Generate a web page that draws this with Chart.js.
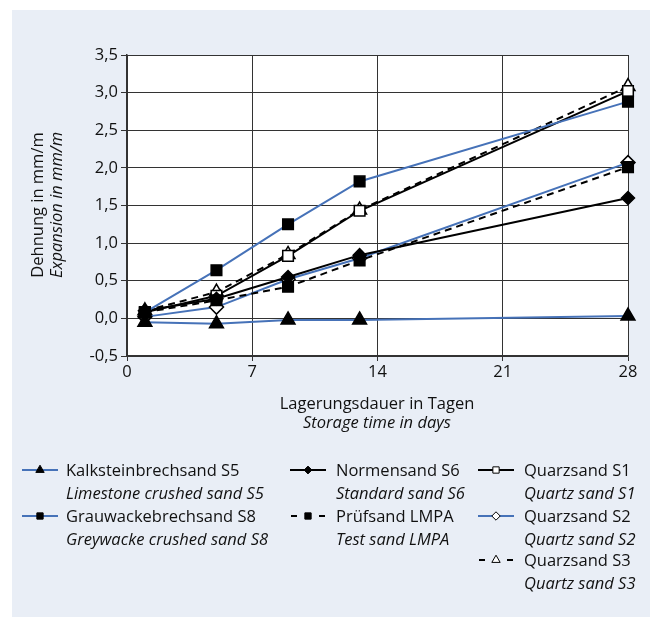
<!DOCTYPE html>
<html>
<head>
<meta charset="utf-8">
<script src="https://cdn.jsdelivr.net/npm/chart.js@4"></script>
<style>
  body { margin: 0; background: #fff; font-family: "Open Sans", sans-serif; color: #111; }
  #panel { position: absolute; left: 12px; top: 10px; width: 638px; height: 607px; background: #e9eef6; }
  #wrap { position: absolute; left: 0; top: 0; width: 650px; height: 400px; }
  .title { position: absolute; font-size: 16.5px; white-space: nowrap; text-align: center; line-height: 19px; }
  #ytitle { left: 46px; top: 205px; transform: translate(-50%, -50%) rotate(-90deg); }
  #xtitle { left: 377px; top: 393px; transform: translateX(-50%); }
  .legend-item { position: absolute; font-size: 16.5px; line-height: 22.5px; white-space: nowrap; }
  .legend-item canvas { position: absolute; left: 0; top: 3px; }
  .legend-item .txt { position: absolute; left: 0; top: 0; }
  i { font-style: italic; }
</style>
</head>
<body>
<div id="panel"></div>
<div id="wrap"><canvas id="chart" width="650" height="400"></canvas></div>
<div class="title" id="ytitle">Dehnung in mm/m<br><i>Expansion in mm/m</i></div>
<div class="title" id="xtitle">Lagerungsdauer in Tagen<br><i>Storage time in days</i></div>
<div id="legend"></div>
<script>
// storage days and expansion values (mm/m)
const days = [1, 5, 9, 13, 28];
const xTicks = [0, 7, 14, 21, 28];

const kalksteinS5 = [-0.05, -0.07, -0.02, -0.02, 0.03];
const grauwackeS8 = [0.08, 0.64, 1.25, 1.82, 2.88];
const normensandS6 = [0.1, 0.26, 0.55, 0.84, 1.6];
const pruefsandLMPA = [0.08, 0.24, 0.42, 0.77, 2.01];
const quarzS1 = [0.08, 0.3, 0.83, 1.43, 3.02];
const quarzS2 = [0.02, 0.15, 0.52, 0.8, 2.07];
const quarzS3 = [0.1, 0.35, 0.85, 1.44, 3.08];

const blue = '#4672b8';

const series = [
  { de: 'Kalksteinbrechsand S5', en: 'Limestone crushed sand S5', data: kalksteinS5, color: blue, dash: [], style: 'triangle', radius: 8, fill: '#000' },
  { de: 'Grauwackebrechsand S8', en: 'Greywacke crushed sand S8', data: grauwackeS8, color: blue, dash: [], style: 'rect', radius: 7.5, fill: '#000' },
  { de: 'Normensand S6', en: 'Standard sand S6', data: normensandS6, color: '#000', dash: [], style: 'rectRot', radius: 6.5, fill: '#000' },
  { de: 'Prüfsand LMPA', en: 'Test sand LMPA', data: pruefsandLMPA, color: '#000', dash: [7, 5], style: 'rect', radius: 7.5, fill: '#000' },
  { de: 'Quarzsand S1', en: 'Quartz sand S1', data: quarzS1, color: '#000', dash: [], style: 'rect', radius: 7.5, fill: '#fff' },
  { de: 'Quarzsand S2', en: 'Quartz sand S2', data: quarzS2, color: blue, dash: [], style: 'rectRot', radius: 7, fill: '#fff' },
  { de: 'Quarzsand S3', en: 'Quartz sand S3', data: quarzS3, color: '#000', dash: [7, 5], style: 'triangle', radius: 8, fill: '#fff' }
];

// legend slot positions
const legendPos = [
  { x: 22, y: 459 }, { x: 22, y: 505 },
  { x: 290, y: 459 }, { x: 290, y: 505 },
  { x: 478, y: 459 }, { x: 478, y: 505 }, { x: 478, y: 549 }
];

const plotBg = {
  id: 'plotBg',
  beforeDraw(chart) {
    const { ctx, chartArea: a } = chart;
    ctx.save();
    ctx.fillStyle = '#fff';
    ctx.fillRect(a.left, a.top, a.right - a.left, a.bottom - a.top);
    ctx.restore();
  }
};

const chart = new Chart(document.getElementById('chart'), {
  type: 'line',
  data: {
    datasets: series.map(s => ({
      label: s.de,
      data: days.map((d, i) => ({ x: d, y: s.data[i] })),
      borderColor: s.color,
      borderWidth: 2,
      borderDash: s.dash,
      pointStyle: s.style,
      pointRadius: s.radius,
      pointBackgroundColor: s.fill,
      pointBorderColor: '#000',
      pointBorderWidth: 1.5,
      tension: 0,
      clip: false
    }))
  },
  options: {
    responsive: false,
    animation: false,
    layout: { padding: { top: 55, right: 22, left: 0, bottom: 0 } },
    plugins: { legend: { display: false }, tooltip: { enabled: false } },
    scales: {
      x: {
        type: 'linear', min: 0, max: 28,
        afterBuildTicks: s => { s.ticks = xTicks.map(v => ({ value: v })); },
        afterFit: s => { s.height = 44; },
        ticks: { color: '#111', font: { family: 'Open Sans', size: 16.5 }, padding: 1 },
        grid: { color: '#333', lineWidth: 1, tickLength: 5 },
        border: { color: '#333', width: 1.5 }
      },
      y: {
        min: -0.5, max: 3.5,
        afterFit: s => { s.width = 127; },
        ticks: {
          stepSize: 0.5, color: '#111', font: { family: 'Open Sans', size: 16.5 }, padding: 3,
          callback: v => v.toFixed(1).replace('.', ',')
        },
        grid: { color: '#333', lineWidth: 1, tickLength: 6 },
        border: { color: '#333', width: 1.5 }
      }
    }
  },
  plugins: [plotBg]
});

// HTML legend with two-line labels
function drawMarker(ctx, style, x, y, r, fill) {
  ctx.beginPath();
  if (style === 'triangle') {
    ctx.moveTo(x, y - r);
    ctx.lineTo(x + r * 0.87, y + r * 0.5);
    ctx.lineTo(x - r * 0.87, y + r * 0.5);
    ctx.closePath();
  } else if (style === 'rect') {
    ctx.rect(x - r * 0.7, y - r * 0.7, r * 1.4, r * 1.4);
  } else {
    ctx.moveTo(x, y - r); ctx.lineTo(x + r, y); ctx.lineTo(x, y + r); ctx.lineTo(x - r, y);
    ctx.closePath();
  }
  ctx.fillStyle = fill;
  ctx.fill();
  ctx.lineWidth = 1;
  ctx.strokeStyle = '#000';
  ctx.stroke();
}

const legendDiv = document.getElementById('legend');
series.forEach((s, i) => {
  const p = legendPos[i];
  const item = document.createElement('div');
  item.className = 'legend-item';
  item.style.left = p.x + 'px';
  item.style.top = p.y + 'px';
  const c = document.createElement('canvas');
  c.width = 36; c.height = 16;
  const ctx = c.getContext('2d');
  ctx.strokeStyle = s.color;
  ctx.lineWidth = 2;
  ctx.setLineDash(s.dash.length ? [6, 8] : []);
  ctx.beginPath();
  ctx.moveTo(s.dash.length ? 1 : 0, 8); ctx.lineTo(36, 8);
  ctx.stroke();
  ctx.setLineDash([]);
  drawMarker(ctx, s.style, 18, 8, s.radius * 0.6, s.fill);
  item.appendChild(c);
  const txt = document.createElement('div');
  txt.className = 'txt';
  txt.style.left = (i < 2 ? 44 : 46) + 'px';
  txt.innerHTML = s.de + '<br><i>' + s.en + '</i>';
  item.appendChild(txt);
  legendDiv.appendChild(item);
});
</script>
</body>
</html>
